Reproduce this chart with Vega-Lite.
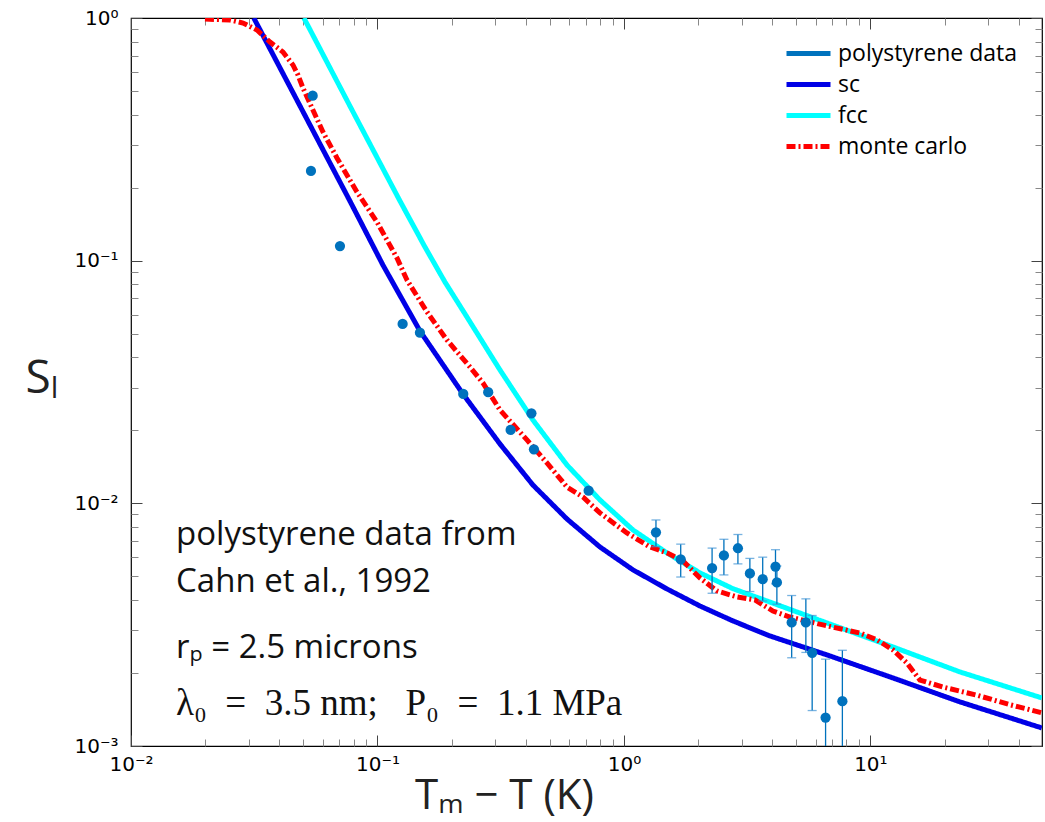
{
  "$schema": "https://vega.github.io/schema/vega-lite/v6.json",
  "autosize": {"type": "none"},
  "padding": {"left": 131, "top": 18, "right": 3, "bottom": 76},
  "width": 911,
  "height": 728,
  "background": "white",
  "config": {
    "view": {"stroke": "#000", "strokeWidth": 1.2},
    "axis": {"grid": false, "domain": false, "labelOverlap": false},
    "font": "Open Sans"
  },
  "datasets": {
    "lines": [
      {"series": "sc", "t": 0.0315, "s": 1},
      {"series": "sc", "t": 0.0485, "s": 0.434},
      {"series": "sc", "t": 0.0773, "s": 0.1762},
      {"series": "sc", "t": 0.1052, "s": 0.096},
      {"series": "sc", "t": 0.1487, "s": 0.05133},
      {"series": "sc", "t": 0.2222, "s": 0.02823},
      {"series": "sc", "t": 0.3141, "s": 0.01757},
      {"series": "sc", "t": 0.4273, "s": 0.0119},
      {"series": "sc", "t": 0.5873, "s": 0.00862},
      {"series": "sc", "t": 0.7992, "s": 0.00661},
      {"series": "sc", "t": 1.088, "s": 0.00532},
      {"series": "sc", "t": 1.494, "s": 0.00444},
      {"series": "sc", "t": 2.033, "s": 0.003777},
      {"series": "sc", "t": 2.768, "s": 0.003277},
      {"series": "sc", "t": 3.91, "s": 0.002842},
      {"series": "sc", "t": 6.661, "s": 0.002374},
      {"series": "sc", "t": 12.34, "s": 0.001908},
      {"series": "sc", "t": 23.07, "s": 0.00152},
      {"series": "sc", "t": 49.6, "s": 0.001187},
      {"series": "fcc", "t": 0.0503, "s": 1},
      {"series": "fcc", "t": 0.0773, "s": 0.434},
      {"series": "fcc", "t": 0.1234, "s": 0.1762},
      {"series": "fcc", "t": 0.1559, "s": 0.1138},
      {"series": "fcc", "t": 0.1878, "s": 0.0817},
      {"series": "fcc", "t": 0.2307, "s": 0.0586},
      {"series": "fcc", "t": 0.3141, "s": 0.03545},
      {"series": "fcc", "t": 0.4273, "s": 0.02206},
      {"series": "fcc", "t": 0.5873, "s": 0.01439},
      {"series": "fcc", "t": 0.7992, "s": 0.01033},
      {"series": "fcc", "t": 1.088, "s": 0.00777},
      {"series": "fcc", "t": 1.494, "s": 0.00625},
      {"series": "fcc", "t": 2.033, "s": 0.00517},
      {"series": "fcc", "t": 2.768, "s": 0.00445},
      {"series": "fcc", "t": 3.91, "s": 0.00392},
      {"series": "fcc", "t": 6.661, "s": 0.003215},
      {"series": "fcc", "t": 12.34, "s": 0.00256},
      {"series": "fcc", "t": 23.07, "s": 0.00202},
      {"series": "fcc", "t": 49.6, "s": 0.001578},
      {"series": "monte carlo", "t": 0.01996, "s": 0.99},
      {"series": "monte carlo", "t": 0.02521, "s": 0.981},
      {"series": "monte carlo", "t": 0.02848, "s": 0.9537},
      {"series": "monte carlo", "t": 0.03245, "s": 0.8925},
      {"series": "monte carlo", "t": 0.03664, "s": 0.7963},
      {"series": "monte carlo", "t": 0.04135, "s": 0.7244},
      {"series": "monte carlo", "t": 0.04542, "s": 0.6403},
      {"series": "monte carlo", "t": 0.04759, "s": 0.5823},
      {"series": "monte carlo", "t": 0.04987, "s": 0.5146},
      {"series": "monte carlo", "t": 0.05424, "s": 0.4257},
      {"series": "monte carlo", "t": 0.0601, "s": 0.3391},
      {"series": "monte carlo", "t": 0.0685, "s": 0.265},
      {"series": "monte carlo", "t": 0.08254, "s": 0.1919},
      {"series": "monte carlo", "t": 0.09954, "s": 0.1443},
      {"series": "monte carlo", "t": 0.12, "s": 0.1026},
      {"series": "monte carlo", "t": 0.1317, "s": 0.0833},
      {"series": "monte carlo", "t": 0.1588, "s": 0.0615},
      {"series": "monte carlo", "t": 0.1913, "s": 0.04713},
      {"series": "monte carlo", "t": 0.2372, "s": 0.03648},
      {"series": "monte carlo", "t": 0.2679, "s": 0.03133},
      {"series": "monte carlo", "t": 0.3141, "s": 0.02425},
      {"series": "monte carlo", "t": 0.4042, "s": 0.01825},
      {"series": "monte carlo", "t": 0.4871, "s": 0.01467},
      {"series": "monte carlo", "t": 0.5873, "s": 0.01168},
      {"series": "monte carlo", "t": 0.682, "s": 0.01062},
      {"series": "monte carlo", "t": 0.7992, "s": 0.00913},
      {"series": "monte carlo", "t": 1.0285, "s": 0.00755},
      {"series": "monte carlo", "t": 1.275, "s": 0.00661},
      {"series": "monte carlo", "t": 1.494, "s": 0.00625},
      {"series": "monte carlo", "t": 1.735, "s": 0.00579},
      {"series": "monte carlo", "t": 2.033, "s": 0.00493},
      {"series": "monte carlo", "t": 2.384, "s": 0.004355},
      {"series": "monte carlo", "t": 2.873, "s": 0.004115},
      {"series": "monte carlo", "t": 3.399, "s": 0.004},
      {"series": "monte carlo", "t": 4.022, "s": 0.0036},
      {"series": "monte carlo", "t": 4.714, "s": 0.0034},
      {"series": "monte carlo", "t": 6.417, "s": 0.003155},
      {"series": "monte carlo", "t": 9.067, "s": 0.00292},
      {"series": "monte carlo", "t": 10.63, "s": 0.00274},
      {"series": "monte carlo", "t": 12.34, "s": 0.00249},
      {"series": "monte carlo", "t": 14.06, "s": 0.0022},
      {"series": "monte carlo", "t": 15.88, "s": 0.00187},
      {"series": "monte carlo", "t": 19.68, "s": 0.00175},
      {"series": "monte carlo", "t": 27.04, "s": 0.00162},
      {"series": "monte carlo", "t": 36.81, "s": 0.00148},
      {"series": "monte carlo", "t": 49.6, "s": 0.00137}
    ],
    "ps": [
      {"series": "polystyrene data", "t": 0.05459, "s": 0.4785},
      {"series": "polystyrene data", "t": 0.05373, "s": 0.2342},
      {"series": "polystyrene data", "t": 0.07045, "s": 0.1149},
      {"series": "polystyrene data", "t": 0.1265, "s": 0.05484},
      {"series": "polystyrene data", "t": 0.1487, "s": 0.05051},
      {"series": "polystyrene data", "t": 0.2229, "s": 0.02823},
      {"series": "polystyrene data", "t": 0.2814, "s": 0.0287},
      {"series": "polystyrene data", "t": 0.347, "s": 0.02007},
      {"series": "polystyrene data", "t": 0.4214, "s": 0.0235},
      {"series": "polystyrene data", "t": 0.4314, "s": 0.0167},
      {"series": "polystyrene data", "t": 0.7192, "s": 0.01128},
      {"series": "polystyrene data", "t": 1.349, "s": 0.0076, "lo": 0.00663, "hi": 0.00854},
      {"series": "polystyrene data", "t": 1.7, "s": 0.00588, "lo": 0.00497, "hi": 0.00679},
      {"series": "polystyrene data", "t": 2.279, "s": 0.00541, "lo": 0.00426, "hi": 0.00654},
      {"series": "polystyrene data", "t": 2.545, "s": 0.0061, "lo": 0.00507, "hi": 0.00711},
      {"series": "polystyrene data", "t": 2.901, "s": 0.00653, "lo": 0.00563, "hi": 0.00744},
      {"series": "polystyrene data", "t": 3.244, "s": 0.00514, "lo": 0.00433, "hi": 0.00593},
      {"series": "polystyrene data", "t": 3.657, "s": 0.00487, "lo": 0.00396, "hi": 0.006},
      {"series": "polystyrene data", "t": 4.121, "s": 0.00549, "lo": 0.00466, "hi": 0.00644},
      {"series": "polystyrene data", "t": 4.175, "s": 0.00472, "lo": 0.00384, "hi": 0.00552},
      {"series": "polystyrene data", "t": 4.794, "s": 0.00323, "lo": 0.00231, "hi": 0.00417},
      {"series": "polystyrene data", "t": 5.473, "s": 0.00323, "lo": 0.00243, "hi": 0.00404},
      {"series": "polystyrene data", "t": 5.805, "s": 0.00242, "lo": 0.0014, "hi": 0.00345},
      {"series": "polystyrene data", "t": 6.58, "s": 0.00131, "lo": 0.0008, "hi": 0.00228},
      {"series": "polystyrene data", "t": 7.698, "s": 0.00153, "lo": 0.0008, "hi": 0.00248}
    ],
    "notes": [
      {"t": 0.01523, "s": 0.006741, "label": "polystyrene data from"},
      {"t": 0.01523, "s": 0.004314, "label": "Cahn et al., 1992"},
      {"t": 0.01523, "s": 0.002307, "label": "rₚ = 2.5 microns"}
    ],
    "math": [
      {"t": 0.01523, "s": 0.001343, "label": "λ₀\u2002=\u20023.5 nm;\u2002 P₀\u2002=\u20021.1 MPa"}
    ]
  },
  "resolve": {"axis": {"x": "independent", "y": "independent"}},
  "layer": [
    {
      "data": {"name": "lines"},
      "mark": {"type": "line", "strokeWidth": 5, "clip": true},
      "encoding": {
        "x": {
          "field": "t", "type": "quantitative",
          "scale": {"type": "log", "domain": [0.01, 49.7], "nice": false},
          "axis": {
            "orient": "bottom",
            "values": [0.01, 0.02, 0.03, 0.04, 0.05, 0.06, 0.07, 0.08, 0.09, 0.1, 0.2, 0.3, 0.4, 0.5, 0.6, 0.7, 0.8, 0.9, 1, 2, 3, 4, 5, 6, 7, 8, 9, 10, 20, 30, 40],
            "ticks": true,
            "tickSize": {"condition": {"test": "abs(log(datum.value)/LN10 - round(log(datum.value)/LN10)) < 0.001", "value": -11}, "value": -7},
            "tickColor": {"condition": {"test": "abs(log(datum.value)/LN10 - round(log(datum.value)/LN10)) < 0.001", "value": "#444"}, "value": "#888"},
            "tickWidth": 1,
            "labelPadding": 19, "labelFlush": false, "labelFont": "DejaVu Sans", "labelFontSize": 20, "labelColor": "#000",
            "labelExpr": "abs(log(datum.value)/LN10 - round(log(datum.value)/LN10)) > 0.001 ? '' : datum.value < 0.05 ? '10⁻²' : datum.value < 0.5 ? '10⁻¹' : datum.value < 5 ? '10⁰' : '10¹'",
            "title": "Tₘ − T (K)", "titleFont": "Open Sans", "titleFontSize": 42, "titleFontWeight": "normal", "titleColor": "#222",
            "titleX": 373, "titleY": 62, "titleAlign": "center", "titleBaseline": "alphabetic"
          }
        },
        "y": {
          "field": "s", "type": "quantitative",
          "scale": {"type": "log", "domain": [0.001, 1], "nice": false},
          "axis": {
            "orient": "left",
            "values": [0.001, 0.002, 0.003, 0.004, 0.005, 0.006, 0.007, 0.008, 0.009, 0.01, 0.02, 0.03, 0.04, 0.05, 0.06, 0.07, 0.08, 0.09, 0.1, 0.2, 0.3, 0.4, 0.5, 0.6, 0.7, 0.8, 0.9, 1],
            "ticks": true,
            "tickSize": {"condition": {"test": "abs(log(datum.value)/LN10 - round(log(datum.value)/LN10)) < 0.001", "value": -11}, "value": -7},
            "tickColor": {"condition": {"test": "abs(log(datum.value)/LN10 - round(log(datum.value)/LN10)) < 0.001", "value": "#444"}, "value": "#888"},
            "tickWidth": 1,
            "labelPadding": 24, "labelFlush": false, "labelFont": "DejaVu Sans", "labelFontSize": 20, "labelColor": "#000",
            "labelExpr": "abs(log(datum.value)/LN10 - round(log(datum.value)/LN10)) > 0.001 ? '' : datum.value < 0.005 ? '10⁻³' : datum.value < 0.05 ? '10⁻²' : datum.value < 0.5 ? '10⁻¹' : '10⁰'",
            "title": "Sₗ", "titleFont": "Open Sans", "titleFontSize": 46, "titleFontWeight": "normal", "titleColor": "#222",
            "titleAngle": 0, "titleX": -106, "titleY": 374, "titleAlign": "left", "titleBaseline": "alphabetic"
          }
        },
        "color": {
          "field": "series", "type": "nominal",
          "scale": {"domain": ["polystyrene data", "sc", "fcc", "monte carlo"], "range": ["#0072BD", "#0000E6", "#00FFFF", "#FF0000"]},
          "legend": {
            "orient": "none", "legendX": 664, "legendY": 22, "title": null, "padding": 0,
            "symbolType": "M-2,0H2", "symbolSize": 484, "symbolStrokeWidth": 5,
            "labelFont": "Open Sans", "labelFontSize": 23, "labelColor": "#000", "labelOffset": 16, "labelLimit": 400, "rowPadding": 5
          }
        },
        "strokeDash": {
          "field": "series", "type": "nominal",
          "scale": {"domain": ["polystyrene data", "sc", "fcc", "monte carlo"], "range": [[1, 0], [1, 0], [1, 0], [9, 3, 2, 3]]},
          "legend": {
            "orient": "none", "legendX": 664, "legendY": 22, "title": null, "padding": 0,
            "symbolType": "M-2,0H2", "symbolSize": 484, "symbolStrokeWidth": 5,
            "labelFont": "Open Sans", "labelFontSize": 23, "labelColor": "#000", "labelOffset": 16, "labelLimit": 400, "rowPadding": 5
          }
        },
        "detail": {"field": "series"}
      }
    },
    {
      "data": {"name": "ps"},
      "transform": [{"filter": "isValid(datum.lo)"}],
      "mark": {"type": "rule", "strokeWidth": 1.3, "clip": true},
      "encoding": {
        "x": {"field": "t", "type": "quantitative", "axis": null},
        "y": {"field": "lo", "type": "quantitative", "axis": null},
        "y2": {"field": "hi"},
        "color": {"field": "series", "type": "nominal"},
        "strokeDash": {"field": "series", "type": "nominal"}
      }
    },
    {
      "data": {"name": "ps"},
      "transform": [{"filter": "isValid(datum.lo)"}],
      "mark": {"type": "tick", "orient": "horizontal", "size": 9, "thickness": 1.3, "color": "#3f93d4", "clip": true},
      "encoding": {
        "x": {"field": "t", "type": "quantitative", "axis": null},
        "y": {"field": "lo", "type": "quantitative", "axis": null}
      }
    },
    {
      "data": {"name": "ps"},
      "transform": [{"filter": "isValid(datum.hi)"}],
      "mark": {"type": "tick", "orient": "horizontal", "size": 9, "thickness": 1.3, "color": "#3f93d4", "clip": true},
      "encoding": {
        "x": {"field": "t", "type": "quantitative", "axis": null},
        "y": {"field": "hi", "type": "quantitative", "axis": null}
      }
    },
    {
      "data": {"name": "ps"},
      "mark": {"type": "point", "filled": true, "size": 105, "opacity": 1, "color": "#0072BD", "clip": true},
      "encoding": {
        "x": {"field": "t", "type": "quantitative",
          "axis": {
            "orient": "top",
            "values": [0.01, 0.02, 0.03, 0.04, 0.05, 0.06, 0.07, 0.08, 0.09, 0.1, 0.2, 0.3, 0.4, 0.5, 0.6, 0.7, 0.8, 0.9, 1, 2, 3, 4, 5, 6, 7, 8, 9, 10, 20, 30, 40],
            "labels": false, "ticks": true,
            "tickSize": {"condition": {"test": "abs(log(datum.value)/LN10 - round(log(datum.value)/LN10)) < 0.001", "value": -11}, "value": -7},
            "tickColor": {"condition": {"test": "abs(log(datum.value)/LN10 - round(log(datum.value)/LN10)) < 0.001", "value": "#444"}, "value": "#888"},
            "tickWidth": 1, "title": null}},
        "y": {"field": "s", "type": "quantitative",
          "axis": {
            "orient": "right",
            "values": [0.001, 0.002, 0.003, 0.004, 0.005, 0.006, 0.007, 0.008, 0.009, 0.01, 0.02, 0.03, 0.04, 0.05, 0.06, 0.07, 0.08, 0.09, 0.1, 0.2, 0.3, 0.4, 0.5, 0.6, 0.7, 0.8, 0.9, 1],
            "labels": false, "ticks": true,
            "tickSize": {"condition": {"test": "abs(log(datum.value)/LN10 - round(log(datum.value)/LN10)) < 0.001", "value": -11}, "value": -7},
            "tickColor": {"condition": {"test": "abs(log(datum.value)/LN10 - round(log(datum.value)/LN10)) < 0.001", "value": "#444"}, "value": "#888"},
            "tickWidth": 1, "title": null}}
      }
    },
    {
      "data": {"name": "notes"},
      "mark": {"type": "text", "align": "left", "baseline": "alphabetic", "font": "Open Sans", "fontSize": 33, "color": "#111"},
      "encoding": {
        "x": {"field": "t", "type": "quantitative", "axis": null},
        "y": {"field": "s", "type": "quantitative", "axis": null},
        "text": {"field": "label"}
      }
    },
    {
      "data": {"name": "math"},
      "mark": {"type": "text", "align": "left", "baseline": "alphabetic", "font": "Liberation Serif", "fontSize": 37, "color": "#111"},
      "encoding": {
        "x": {"field": "t", "type": "quantitative", "axis": null},
        "y": {"field": "s", "type": "quantitative", "axis": null},
        "text": {"field": "label"}
      }
    }
  ]
}
